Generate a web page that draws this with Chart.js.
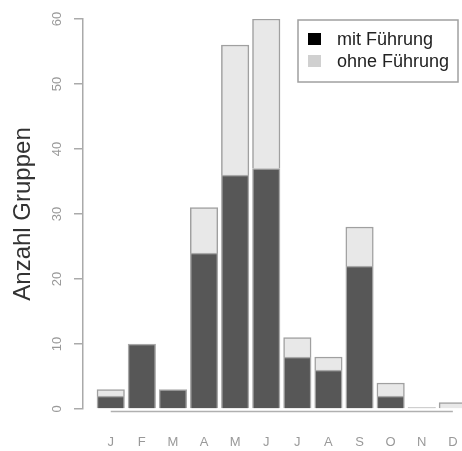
<!DOCTYPE html>
<html>
<head>
<meta charset="utf-8">
<script src="https://cdn.jsdelivr.net/npm/chart.js@4/dist/chart.umd.min.js"></script>
<style>
  html, body { margin: 0; padding: 0; background: #fff; overflow: hidden; }
  #wrap { width: 462px; height: 451px; }
</style>
</head>
<body>
<div id="wrap"><canvas id="gruppenChart"></canvas></div>
<script>
// Monate und Gruppen pro Monat
const monate = ['J', 'F', 'M', 'A', 'M', 'J', 'J', 'A', 'S', 'O', 'N', 'D'];
const mitFuehrung = [2, 10, 3, 24, 36, 37, 8, 6, 22, 2, 0, 0];
const ohneFuehrung = [1, 0, 0, 7, 20, 23, 3, 2, 6, 2, 0.2, 1];
const yTicks = [0, 10, 20, 30, 40, 50, 60];

// Legende oben rechts mit Rahmen (wie in R)
const legendBox = {
    id: 'legendBox',
    afterDraw(chart) {
        const ctx = chart.ctx;
        ctx.save();
        ctx.strokeStyle = '#a0a0a0';
        ctx.lineWidth = 1.5;
        ctx.strokeRect(298, 20, 160, 62);
        ctx.font = '18px "Liberation Sans", Arial, sans-serif';
        ctx.textBaseline = 'middle';
        chart.data.datasets.forEach((ds, i) => {
            const y = 39 + i * 22;
            ctx.fillStyle = ds.legendColor;
            ctx.fillRect(308, y - 6, 13, 12);
            ctx.fillStyle = '#222';
            ctx.fillText(ds.label, 337, y + 1);
        });
        ctx.restore();
    }
};

// x-Achsenlinie von der ersten bis zur letzten Kategorie
const xAxisLine = {
    id: 'xAxisLine',
    afterDraw(chart) {
        const x = chart.scales.x;
        const ctx = chart.ctx;
        const y = chart.chartArea.bottom + 2.5;
        ctx.save();
        ctx.strokeStyle = '#b0b0b0';
        ctx.lineWidth = 1.5;
        ctx.beginPath();
        ctx.moveTo(x.getPixelForValue(1), y);
        ctx.lineTo(x.getPixelForValue(monate.length), y);
        ctx.stroke();
        ctx.restore();
    }
};

const ctx = document.getElementById('gruppenChart').getContext('2d');

new Chart(ctx, {
    type: 'bar',
    data: {
        datasets: [{
            label: 'mit Führung',
            data: mitFuehrung.map((v, i) => ({ x: i + 1, y: v })),
            backgroundColor: '#575757',
            borderColor: '#a8a8a8',
            borderWidth: 1.5,
            legendColor: '#000'
        }, {
            label: 'ohne Führung',
            data: ohneFuehrung.map((v, i) => ({ x: i + 1, y: v })),
            backgroundColor: '#e8e8e8',
            borderColor: '#a0a0a0',
            borderWidth: 1.5,
            legendColor: '#d0d0d0'
        }]
    },
    options: {
        responsive: true,
        maintainAspectRatio: false,
        animation: false,
        barThickness: 27.5,
        layout: { padding: { top: 19, right: 0, bottom: 0, left: 0 } },
        plugins: {
            legend: { display: false },
            tooltip: { enabled: false }
        },
        scales: {
            x: {
                type: 'linear',
                offset: false,
                stacked: true,
                min: 0.108,
                max: 12.294,
                grid: { display: false, drawTicks: false, offset: false },
                border: { display: false },
                afterBuildTicks: (scale) => {
                    scale.ticks = monate.map((m, i) => ({ value: i + 1 }));
                },
                afterFit: (scale) => {
                    scale.height = 42;
                    scale.paddingLeft = 0;
                    scale.paddingRight = 0;
                },
                ticks: {
                    autoSkip: false,
                    maxRotation: 0,
                    padding: 26,
                    color: '#999',
                    font: { size: 13, family: '"Liberation Sans", Arial, sans-serif' },
                    callback: (v) => monate[v - 1] || ''
                }
            },
            y: {
                stacked: true,
                min: 0,
                max: 60,
                afterBuildTicks: (scale) => {
                    scale.ticks = yTicks.map(v => ({ value: v }));
                },
                afterFit: (scale) => { scale.width = 83; },
                grid: {
                    display: true,
                    drawOnChartArea: false,
                    drawTicks: true,
                    tickLength: 9,
                    color: '#aaa',
                    lineWidth: 1.5
                },
                border: { display: true, color: '#aaa', width: 1.5 },
                ticks: {
                    minRotation: 90,
                    maxRotation: 90,
                    crossAlign: 'center',
                    padding: 9,
                    color: '#999',
                    font: { size: 13, family: '"Liberation Sans", Arial, sans-serif' }
                },
                title: {
                    display: true,
                    text: 'Anzahl Gruppen',
                    color: '#333',
                    padding: { top: 9, bottom: 0 },
                    font: { size: 24, family: '"Liberation Sans", Arial, sans-serif' }
                }
            }
        }
    },
    plugins: [legendBox, xAxisLine]
});
</script>
</body>
</html>
